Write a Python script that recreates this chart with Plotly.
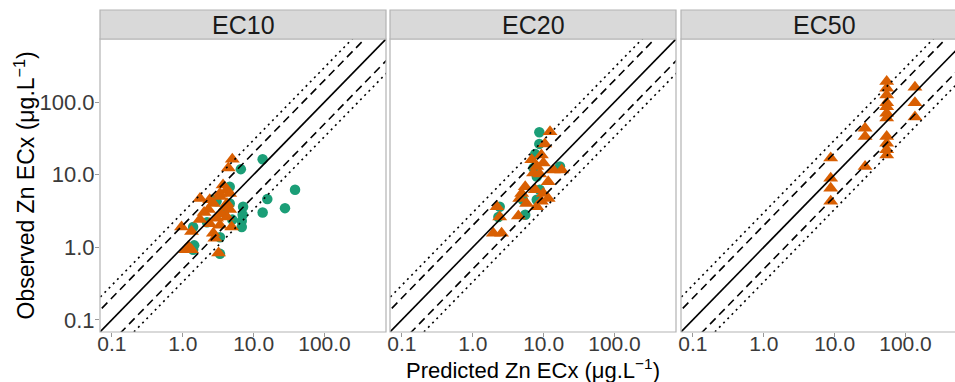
import plotly.graph_objects as go
import numpy as np

panels = ["EC10", "EC20", "EC50"]

# Predicted (x) / Observed (y) values, circles (green) and triangles (orange)
ec10_circ_x = [13.4, 6.6, 38.4, 15.6, 13.4, 27.7, 7.1, 7.0, 6.8, 6.8, 4.6, 2.6, 1.4, 3.35, 3.35, 1.4, 1.45, 3.0, 4.6, 3.8, 2.2, 5.0]
ec10_circ_y = [16.3, 11.9, 6.2, 4.6, 3.0, 3.45, 3.6, 2.8, 2.3, 1.9, 6.8, 4.5, 1.9, 1.37, 0.81, 0.92, 1.06, 4.3, 4.0, 3.0, 2.2, 2.4]
ec10_tri_x = [5.0, 4.4, 3.7, 4.2, 4.6, 1.75, 2.4, 3.35, 2.7, 2.3, 4.2, 4.6, 3.5, 4.2, 1.75, 2.4, 3.35, 4.9, 0.96, 1.33, 2.7, 2.84, 1.2, 1.33, 1.1, 3.2, 3.35, 2.0, 3.0, 4.0]
ec10_tri_y = [16.3, 12.3, 7.2, 6.2, 5.5, 4.7, 4.5, 5.0, 4.0, 3.3, 4.0, 3.3, 2.9, 2.6, 2.4, 2.1, 2.0, 1.9, 1.9, 1.64, 1.56, 1.33, 1.02, 0.92, 0.92, 0.83, 5.5, 3.0, 2.5, 3.6]

ec20_circ_x = [8.7, 8.7, 7.6, 17, 7.2, 2.4, 2.3, 5.5, 8.0, 8.8, 8.0, 5.1]
ec20_circ_y = [38.4, 26.5, 19.3, 12.9, 12.3, 3.6, 2.6, 2.8, 4.5, 6.2, 9.4, 4.5]
ec20_tri_x = [12.3, 10.4, 9.3, 6.8, 9.9, 8.0, 13.7, 18, 7.2, 8.8, 11.6, 5.5, 7.6, 4.9, 9.9, 11.6, 4.6, 5.75, 8.0, 9.3, 2.2, 2.4, 4.4, 1.95, 2.55]
ec20_tri_y = [39, 26.5, 18.7, 16, 14.4, 12.9, 11.6, 11.6, 10.5, 10.2, 8.0, 6.8, 6.2, 5.5, 5.5, 4.7, 4.7, 4.0, 3.6, 4.3, 3.6, 2.6, 2.7, 1.56, 1.56]

ec50_circ_x = []
ec50_circ_y = []
ec50_tri_x = [8.8, 8.8, 8.8, 8.8, 26.9, 26.9, 26.9, 54.3, 54.3, 54.3, 54.3, 54.3, 54.3, 54.3, 54.3, 54.3, 54.3, 54.3, 136, 136, 136]
ec50_tri_y = [16.9, 8.9, 6.5, 4.3, 43.6, 33.4, 12.9, 191, 155, 125, 98, 86, 70, 60, 33.4, 27, 22, 18.7, 160, 98, 62]

tick_vals = [0.1, 1, 10, 100]
tick_text = ["0.1", "1.0", "10.0", "100.0"]

line_factors = [1, 2, 0.5, 3, 1 / 3]
line_dashes = ["solid", "dash", "dash", "dot", "dot"]

GREEN = "#1B9E77"
ORANGE = "#D95F02"
BORDER = "#B3B3B3"

data = [
    (ec10_circ_x, ec10_circ_y, ec10_tri_x, ec10_tri_y),
    (ec20_circ_x, ec20_circ_y, ec20_tri_x, ec20_tri_y),
    (ec50_circ_x, ec50_circ_y, ec50_tri_x, ec50_tri_y),
]

rng = [-1.168, 2.868]
W = 855.0
dom = [[0, 286 / W], [290 / W, 576 / W], [581 / W, 1.0]]
x_ranges = [rng, rng, [rng[0], rng[0] + 274 / 286 * (rng[1] - rng[0])]]

fig = go.Figure()
line_x = np.array([10 ** (rng[0] - 1), 10 ** (rng[1] + 1)])

for i, (cx, cy, tx, ty) in enumerate(data):
    xa = "x" if i == 0 else f"x{i+1}"
    ya = "y" if i == 0 else f"y{i+1}"
    if cx:
        fig.add_trace(go.Scatter(x=cx, y=cy, mode="markers", xaxis=xa, yaxis=ya,
                                 marker=dict(symbol="circle", size=10.5, color=GREEN, line=dict(width=0)),
                                 showlegend=False))
    if tx:
        fig.add_trace(go.Scatter(x=tx, y=ty, mode="markers", xaxis=xa, yaxis=ya,
                                 marker=dict(symbol="triangle-up", size=13, color=ORANGE, line=dict(width=0)),
                                 showlegend=False))
    for f, d in zip(line_factors, line_dashes):
        fig.add_trace(go.Scatter(x=line_x, y=line_x * f, mode="lines", xaxis=xa, yaxis=ya,
                                 line=dict(color="black", width=1.6, dash=("8px,5px" if d == "dash" else ("2px,4px" if d == "dot" else "solid"))),
                                 showlegend=False, hoverinfo="skip"))

layout = dict(
    width=955, height=382,
    margin=dict(l=100, r=0, t=39, b=50, autoexpand=False),
    paper_bgcolor="white", plot_bgcolor="white",
    font=dict(family="Liberation Sans, Arial, sans-serif", color="black"),
    showlegend=False,
)

shapes = []
annotations = []
strip_h = 29 / 293
for i in range(3):
    sfx = "" if i == 0 else str(i + 1)
    layout["xaxis" + sfx] = dict(
        type="log", range=x_ranges[i], domain=dom[i], anchor="y" + sfx,
        tickvals=tick_vals, ticktext=tick_text, ticks="outside", ticklen=4,
        tickcolor="#999999", tickwidth=1, automargin=False, ticklabelstandoff=-11,
        tickfont=dict(size=21, color="#3a3a3a"), showgrid=False, zeroline=False,
        showline=False,
    )
    layout["yaxis" + sfx] = dict(
        type="log", range=rng, domain=[0, 1], anchor="x" + sfx,
        tickvals=tick_vals, ticktext=tick_text, ticks="outside" if i == 0 else "",
        ticklen=4, tickcolor="#999999", tickwidth=1, automargin=False, ticklabelstandoff=-4,
        showticklabels=(i == 0), tickfont=dict(size=22, color="#3a3a3a"),
        showgrid=False, zeroline=False, showline=False,
    )
    x1 = 1 if i < 2 else 1.1
    shapes.append(dict(type="rect", xref=f"x{sfx} domain", yref=f"y{sfx} domain",
                       x0=0, x1=x1, y0=0, y1=1, line=dict(color=BORDER, width=1.2),
                       fillcolor="rgba(0,0,0,0)", layer="above"))
    shapes.append(dict(type="rect", xref=f"x{sfx} domain", yref=f"y{sfx} domain",
                       x0=0, x1=x1, y0=1, y1=1 + strip_h, line=dict(color=BORDER, width=1.2),
                       fillcolor="#D9D9D9", layer="above"))
    annotations.append(dict(text=panels[i], xref=f"x{sfx} domain", yref=f"y{sfx} domain",
                            x=(0.5 if i < 2 else 0.5 * 286 / 274), y=1 + strip_h / 2,
                            showarrow=False, font=dict(size=25, color="#1a1a1a"),
                            xanchor="center", yanchor="middle"))

annotations.append(dict(text="Observed Zn ECx (μg.L<sup>−1</sup>)", xref="paper", yref="paper",
                        x=(24 - 100) / W, y=0.5, textangle=-90, showarrow=False,
                        font=dict(size=23, color="black"), xanchor="center", yanchor="middle"))
annotations.append(dict(text="Predicted Zn ECx (μg.L<sup>−1</sup>)", xref="paper", yref="paper",
                        x=(533 - 100) / W, y=(332 - 369) / 293, showarrow=False,
                        font=dict(size=22, color="black"), xanchor="center", yanchor="middle"))

layout["shapes"] = shapes
layout["annotations"] = annotations
fig.update_layout(**layout)
fig.write_html("out.html", config={"displayModeBar": False},
               post_script="document.body.style.margin='0';document.body.style.padding='0';")
